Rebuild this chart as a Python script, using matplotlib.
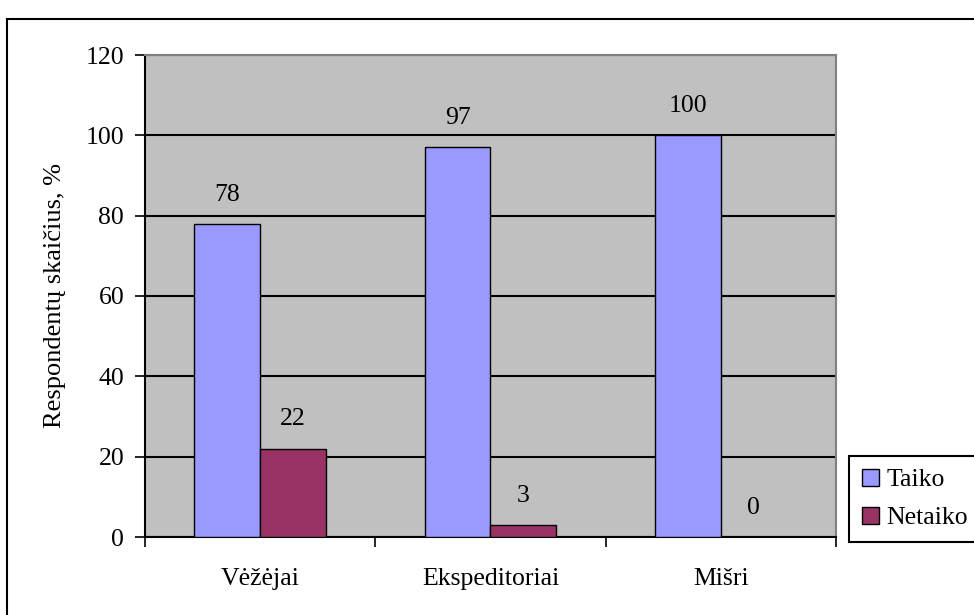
import matplotlib
matplotlib.use("Agg")
import matplotlib.pyplot as plt
import numpy as np
from matplotlib.patches import Rectangle

categories = ["Vėžėjai", "Ekspeditoriai", "Mišri"]
taiko = [78, 97, 100]
netaiko = [22, 3, 0]
series_names = ["Taiko", "Netaiko"]
yticks = [0, 20, 40, 60, 80, 100, 120]
ylabel = "Respondentų skaičius, %"

plt.rcParams['font.family'] = ['Liberation Serif', 'DejaVu Serif']

fig = plt.figure(figsize=(9.74, 6.15), dpi=100)
fig.patch.set_facecolor("white")

# outer chart border
fig.patches.append(Rectangle((0.0077, -0.05), 1.2, 0.05 + 1 - 18.6/615, transform=fig.transFigure,
                             fill=False, edgecolor="black", linewidth=1.5, zorder=0))

ax = fig.add_axes([145/974, 1 - 537/615, (836-145)/974, (537-55)/615])
ax.set_facecolor("#C0C0C0")

x = np.arange(len(categories))
w = 1/3.5
b1 = ax.bar(x - w/2, taiko, w, color="#9999FF", edgecolor="black", linewidth=1, zorder=3, label=series_names[0])
b2 = ax.bar(x + w/2, netaiko, w, color="#993366", edgecolor="black", linewidth=1, zorder=3, label=series_names[1])

for bars, vals in ((b1, taiko), (b2, netaiko)):
    for r, v in zip(bars, vals):
        ax.annotate(str(v), (r.get_x() + r.get_width()/2, r.get_height()),
                    xytext=(0, 21), textcoords="offset points", ha="center", va="center",
                    fontsize=18.5)

ax.set_xlim(-0.5, len(categories) - 0.5)
ax.set_ylim(0, 120)
ax.set_yticks(yticks)
ax.set_yticklabels([str(t) for t in yticks], fontsize=18.5)
ax.yaxis.grid(True, color="black", linewidth=1.5, zorder=1)
ax.set_axisbelow(True)

ax.set_xticks(x)
ax.set_xticklabels(categories, fontsize=18.5)
ax.set_xticks(np.arange(-0.5, len(categories)), minor=True)
ax.tick_params(axis="x", which="major", length=0, pad=22)
ax.tick_params(axis="x", which="minor", length=7, width=1.2, direction="out", color="black")
ax.tick_params(axis="y", length=7, width=1.2, direction="out", pad=8, color="black")

for s in ("left", "bottom"):
    ax.spines[s].set_color("black")
    ax.spines[s].set_linewidth(1.5)
for s in ("top", "right"):
    ax.spines[s].set_color("#808080")
    ax.spines[s].set_linewidth(1.5)

ax.set_ylabel(ylabel, fontsize=19, labelpad=14)

leg = fig.legend(handles=[b1, b2], labels=series_names, loc="upper left",
                 bbox_to_anchor=(849/974, 1 - 456/615), fontsize=18.5,
                 frameon=True, fancybox=False, edgecolor="black", framealpha=1,
                 handlelength=0.65, handleheight=0.65, handletextpad=0.3,
                 borderpad=0.5, labelspacing=0.6, borderaxespad=0)
leg.get_frame().set_linewidth(1.5)

fig.savefig("out.png", dpi=100, facecolor="white")
